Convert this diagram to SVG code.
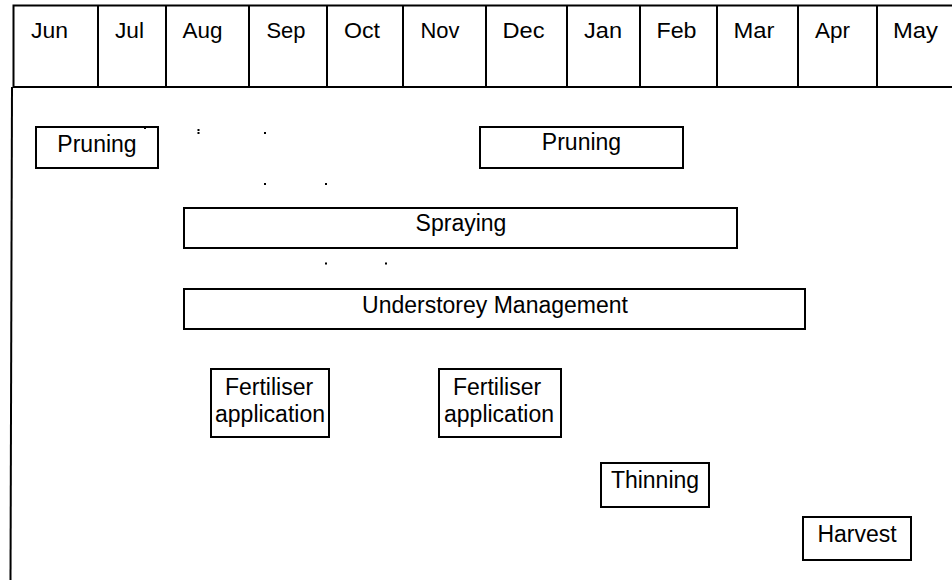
<svg xmlns="http://www.w3.org/2000/svg" width="952" height="580" viewBox="0 0 952 580">
  <style>
    .frame { fill: none; stroke: #000; stroke-width: 2; }
    .box { fill: #fff; stroke: #000; stroke-width: 2; }
    .month { font-family: "Liberation Sans", Arial, sans-serif; font-size: 22px; fill: #000; }
    .label { font-family: "Liberation Sans", Arial, sans-serif; font-size: 23px; fill: #000; text-anchor: middle; }
    .dot { fill: #000; }
  </style>
  <rect width="952" height="580" fill="#fff"/>

  <!-- month header -->
  <g id="header">
    <path class="frame" d="M952,5.5 H13.5 V87 H952"/>
    <path class="frame" d="M98,5.5 V87 M166,5.5 V87 M249,5.5 V87 M327,5.5 V87 M403,5.5 V87 M486,5.5 V87 M567,5.5 V87 M640,5.5 V87 M717,5.5 V87 M798,5.5 V87 M877,5.5 V87"/>
    <text class="month" x="31" y="38" textLength="37" lengthAdjust="spacingAndGlyphs">Jun</text>
    <text class="month" x="115" y="38" textLength="29" lengthAdjust="spacingAndGlyphs">Jul</text>
    <text class="month" x="182.5" y="38" textLength="40" lengthAdjust="spacingAndGlyphs">Aug</text>
    <text class="month" x="266.5" y="38" textLength="39" lengthAdjust="spacingAndGlyphs">Sep</text>
    <text class="month" x="344" y="38" textLength="36" lengthAdjust="spacingAndGlyphs">Oct</text>
    <text class="month" x="420.5" y="38" textLength="39" lengthAdjust="spacingAndGlyphs">Nov</text>
    <text class="month" x="502.5" y="38" textLength="42" lengthAdjust="spacingAndGlyphs">Dec</text>
    <text class="month" x="584" y="38" textLength="38" lengthAdjust="spacingAndGlyphs">Jan</text>
    <text class="month" x="656.5" y="38" textLength="40" lengthAdjust="spacingAndGlyphs">Feb</text>
    <text class="month" x="733.5" y="38" textLength="41" lengthAdjust="spacingAndGlyphs">Mar</text>
    <text class="month" x="815" y="38" textLength="35" lengthAdjust="spacingAndGlyphs">Apr</text>
    <text class="month" x="893" y="38" textLength="45" lengthAdjust="spacingAndGlyphs">May</text>
  </g>

  <!-- left edge of the activity area -->
  <g id="body-edge">
    <path class="frame" d="M12,87 L10.5,580"/>
  </g>

  <!-- activities -->
  <g id="pruning-1">
    <rect class="box" x="36" y="127" width="122" height="41"/>
    <text class="label" x="97" y="152">Pruning</text>
  </g>
  <g id="pruning-2">
    <rect class="box" x="480" y="127" width="203" height="41"/>
    <text class="label" x="581.5" y="150">Pruning</text>
  </g>
  <g id="spraying">
    <rect class="box" x="184" y="208" width="553" height="40"/>
    <text class="label" x="461" y="231">Spraying</text>
  </g>
  <g id="understorey">
    <rect class="box" x="184" y="289" width="621" height="40"/>
    <text class="label" x="495" y="313">Understorey Management</text>
  </g>
  <g id="fertiliser-1">
    <rect class="box" x="211" y="369" width="118" height="68"/>
    <text class="label" x="269" y="395">Fertiliser</text>
    <text class="label" x="270" y="422">application</text>
  </g>
  <g id="fertiliser-2">
    <rect class="box" x="439" y="369" width="122" height="68"/>
    <text class="label" x="497" y="395">Fertiliser</text>
    <text class="label" x="499" y="422">application</text>
  </g>
  <g id="thinning">
    <rect class="box" x="601" y="463" width="108" height="44"/>
    <text class="label" x="655" y="487.5">Thinning</text>
  </g>
  <g id="harvest">
    <rect class="box" x="803" y="517" width="108" height="43"/>
    <text class="label" x="857" y="542">Harvest</text>
  </g>

  <!-- connectors: only stray endpoint dots remain -->
  <g id="connectors">
    <rect class="dot" x="144" y="127" width="2" height="2"/>
    <rect class="dot" x="197.5" y="129" width="2" height="2"/>
    <rect class="dot" x="197.5" y="132" width="2" height="2"/>
    <rect class="dot" x="264" y="132" width="2" height="2"/>
    <rect class="dot" x="264" y="183" width="2" height="2"/>
    <rect class="dot" x="325" y="183" width="2" height="2"/>
    <rect class="dot" x="325" y="262.5" width="2" height="2"/>
    <rect class="dot" x="385" y="262.5" width="2" height="2"/>
  </g>
</svg>
